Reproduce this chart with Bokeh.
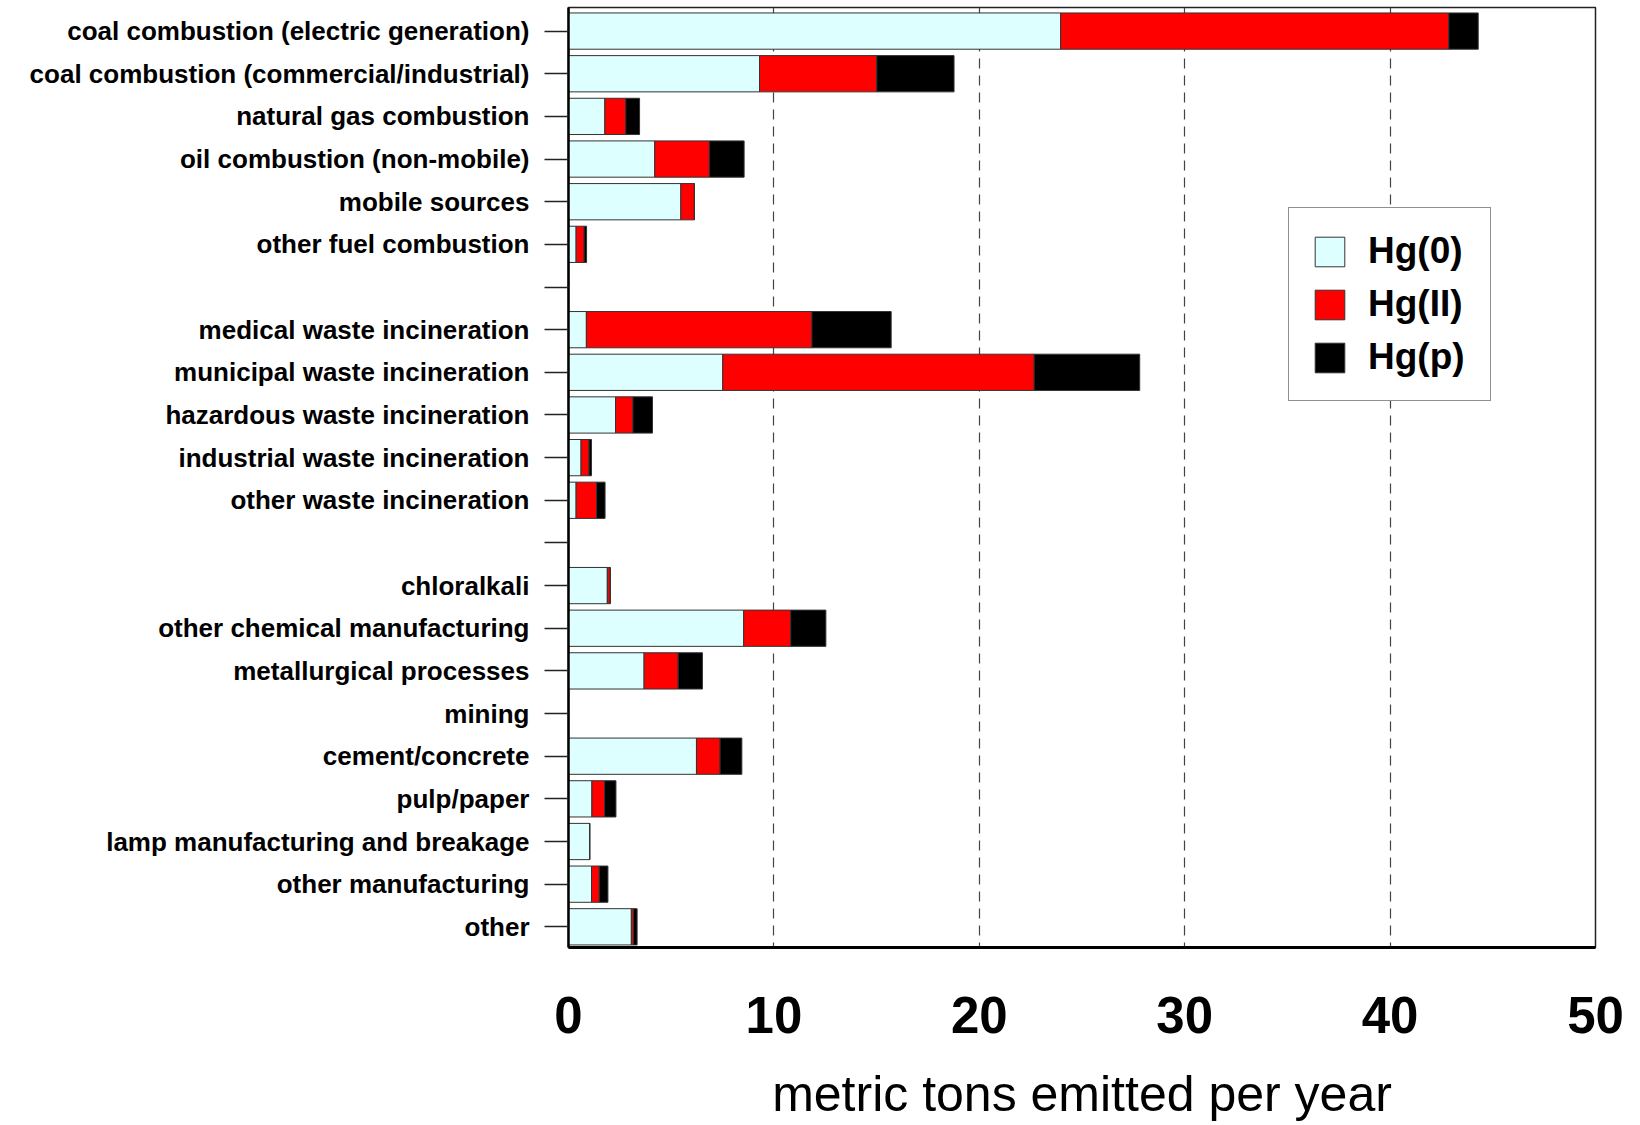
from bokeh.plotting import figure
from bokeh.models import ColumnDataSource, Range1d, FixedTicker, Legend
from bokeh.embed import file_html
from bokeh.resources import INLINE

categories = [
    "coal combustion (electric generation)",
    "coal combustion (commercial/industrial)",
    "natural gas combustion",
    "oil combustion (non-mobile)",
    "mobile sources",
    "other fuel combustion",
    "",
    "medical waste incineration",
    "municipal waste incineration",
    "hazardous waste incineration",
    "industrial waste incineration",
    "other waste incineration",
    "",
    "chloralkali",
    "other chemical manufacturing",
    "metallurgical processes",
    "mining",
    "cement/concrete",
    "pulp/paper",
    "lamp manufacturing and breakage",
    "other manufacturing",
    "other",
]

hg0 = [23.96, 9.30, 1.77, 4.20, 5.47, 0.37, 0, 0.87, 7.51, 2.29, 0.61, 0.37, 0,
       1.89, 8.53, 3.68, 0, 6.23, 1.14, 1.03, 1.12, 3.06]
hg2 = [18.90, 5.71, 1.02, 2.66, 0.66, 0.39, 0, 10.98, 15.16, 0.85, 0.39, 1.00, 0,
       0.14, 2.29, 1.66, 0, 1.15, 0.62, 0, 0.38, 0.10]
hgp = [1.43, 3.76, 0.67, 1.69, 0, 0.12, 0, 3.86, 5.14, 0.95, 0.12, 0.41, 0,
       0, 1.71, 1.18, 0, 1.06, 0.55, 0, 0.42, 0.18]

series_names = ["Hg(0)", "Hg(II)", "Hg(p)"]
series_colors = ["#DDFFFF", "#FF0000", "#000000"]
x_ticks = [0, 10, 20, 30, 40, 50]

ypos = list(range(len(categories)))
src = ColumnDataSource(dict(y=ypos, hg0=hg0, hg2=hg2, hgp=hgp))

FONT = "Liberation Sans"

p = figure(
    width=1624, height=1125,
    x_range=Range1d(0, 50),
    y_range=Range1d(21.485, -0.553),
    output_backend="svg", toolbar_location=None,
    min_border_left=568, min_border_right=29,
    min_border_top=7, min_border_bottom=178,
)
p.background_fill_color = "white"
p.border_fill_color = "white"
p.outline_line_color = "#222222"
p.outline_line_width = 1.5

renderers = p.hbar_stack(
    ["hg0", "hg2", "hgp"], y="y", height=0.85, source=src,
    fill_color=series_colors, line_color="#333333", line_width=1,
)

legend = Legend(
    items=[(n, [r]) for n, r in zip(series_names, renderers)],
    location=(720, 546),
    glyph_width=37, glyph_height=37,
    label_text_font=FONT, label_text_font_style="bold",
    label_text_font_size="37px", label_text_color="black",
    label_standoff=20, spacing=11, padding=22, margin=0,
    border_line_color="#222222", border_line_width=1.5,
    background_fill_color="white", background_fill_alpha=1.0,
    label_height=37, label_width=100,
)
p.add_layout(legend, "center")

# x axis
xa = p.xaxis[0]
xa.ticker = FixedTicker(ticks=x_ticks)
xa.major_label_text_font = FONT
xa.major_label_text_font_style = "bold"
xa.major_label_text_font_size = "51px"
xa.major_label_text_color = "black"
xa.major_tick_out = 0
xa.major_tick_in = 0
xa.minor_tick_out = 0
xa.minor_tick_in = 0
xa.major_label_standoff = 49
xa.axis_line_width = 3
xa.axis_line_color = "black"
xa.axis_label = "metric tons emitted per year"
xa.axis_label_text_font = FONT
xa.axis_label_text_font_style = "normal"
xa.axis_label_text_font_size = "50px"
xa.axis_label_text_color = "black"
xa.axis_label_standoff = 30

# y axis
ya = p.yaxis[0]
ya.ticker = FixedTicker(ticks=ypos)
ya.major_label_overrides = {i: c for i, c in zip(ypos, categories)}
ya.major_label_text_font = FONT
ya.major_label_text_font_style = "bold"
ya.major_label_text_font_size = "26px"
ya.major_label_text_color = "black"
ya.major_tick_out = 24
ya.major_tick_in = 0
ya.minor_tick_out = 0
ya.minor_tick_in = 0
ya.major_tick_line_color = "#222222"
ya.major_tick_line_width = 1.5
ya.major_label_standoff = 15
ya.axis_line_width = 2.5
ya.axis_line_color = "black"

p.xgrid.ticker = FixedTicker(ticks=x_ticks)
p.xgrid.grid_line_color = "#444444"
p.xgrid.grid_line_dash = "10 7"
p.xgrid.grid_line_width = 1.2
p.ygrid.grid_line_color = None

open("out.html", "w").write(file_html(p, INLINE))
